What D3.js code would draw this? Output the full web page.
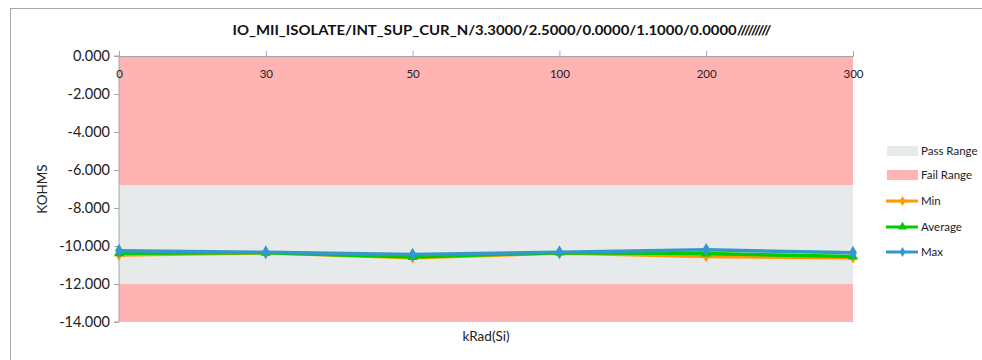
<!DOCTYPE html>
<html><head><meta charset="utf-8">
<script src="https://cdn.jsdelivr.net/npm/d3@7"></script>
<style>body{margin:0;background:#fff;}svg{display:block;font-family:Lato,"Open Sans",sans-serif;}</style>
</head><body>
<svg id="c" width="982" height="360"></svg>
<script>
const title = "IO_MII_ISOLATE/INT_SUP_CUR_N/3.3000/2.5000/0.0000/1.1000/0.0000/////////";
const categories = ["0","30","50","100","200","300"];
const minVals = [-10.48, -10.36, -10.62, -10.37, -10.55, -10.62];
const avgVals = [-10.38, -10.36, -10.58, -10.35, -10.40, -10.55];
const maxVals = [-10.25, -10.33, -10.45, -10.33, -10.20, -10.35];
const yTicks = [0, -2, -4, -6, -8, -10, -12, -14];
const passRange = [-12, -6.8];
const failRanges = [[-6.8, 0], [-14, -12]];
const yLabel = "KOHMS";
const xLabel = "kRad(Si)";

const svg = d3.select("#c");
const L = 119, R = 853, T = 56, B = 322;
const x = d3.scalePoint().domain(categories).range([L, R]);
const y = d3.scaleLinear().domain([-14, 0]).range([B, T]);

const passColor = "#e6eaea", failColor = "#ffb3b3";
const cMin = "#ff9900", cAvg = "#00cc00", cMax = "#3399cc";

// outer border
svg.append("rect").attr("x", 10.5).attr("y", 8.5).attr("width", 990).attr("height", 400)
  .attr("fill", "none").attr("stroke", "#a6a6a6").attr("stroke-width", 1);

// title
svg.append("text").attr("x", 502).attr("y", 35).attr("text-anchor", "middle")
  .attr("font-weight", "bold").attr("font-size", 14).attr("fill", "#111")
  .attr("textLength", 539).attr("lengthAdjust", "spacingAndGlyphs").text(title);

// ranges
failRanges.forEach(r => {
  svg.append("rect").attr("x", L).attr("width", R - L)
    .attr("y", y(r[1])).attr("height", y(r[0]) - y(r[1])).attr("fill", failColor);
});
svg.append("rect").attr("x", L).attr("width", R - L)
  .attr("y", y(passRange[1])).attr("height", y(passRange[0]) - y(passRange[1])).attr("fill", passColor);

// y axis
const yAxis = d3.axisLeft(y).tickValues(yTicks).tickSize(5).tickPadding(4)
  .tickFormat(d => d3.format(".3f")(d).replace("−", "-"));
const gy = svg.append("g").attr("transform", `translate(${L},0)`).call(yAxis);
gy.selectAll("path,line").attr("stroke", "#a6a6a6");
gy.select(".domain").attr("d", `M-5,${T}H0V${B}H-5`);
gy.selectAll("text").attr("font-size", 14.5).attr("fill", "#222").attr("font-family", "Lato,'Open Sans',sans-serif");

// x axis at value 0 (top), labels below line
const xAxis = d3.axisTop(x).tickSize(5).tickFormat(d => d);
const gx = svg.append("g").attr("transform", `translate(0,${y(0)})`).call(xAxis);
gx.selectAll("path,line").attr("stroke", "#a6a6a6");
gx.selectAll("text").attr("font-size", 11.5).attr("fill", "#222")
  .attr("y", 22).attr("font-family", "Lato,'Open Sans',sans-serif");

// axis labels
svg.append("text").attr("transform", `translate(47,${(T + B) / 2}) rotate(-90)`)
  .attr("text-anchor", "middle").attr("font-size", 13.5).attr("fill", "#222").text(yLabel);
svg.append("text").attr("x", 486).attr("y", 341).attr("text-anchor", "middle")
  .attr("font-size", 13.5).attr("fill", "#222").text(xLabel);

// series
const series = [
  {name: "Min", vals: minVals, color: cMin, sym: d3.symbolDiamond, size: 40},
  {name: "Average", vals: avgVals, color: cAvg, sym: d3.symbolTriangle, size: 45},
  {name: "Max", vals: maxVals, color: cMax, sym: d3.symbolDiamond, size: 55}
];
const line = d3.line().x((d, i) => x(categories[i])).y(d => y(d));
series.forEach(s => {
  svg.append("path").datum(s.vals).attr("d", line).attr("fill", "none")
    .attr("stroke", s.color).attr("stroke-width", 3.5).attr("stroke-linejoin", "round");
  svg.append("g").selectAll("path").data(s.vals).join("path")
    .attr("transform", (d, i) => `translate(${x(categories[i])},${y(d)})`)
    .attr("d", d3.symbol().type(s.sym).size(s.size)).attr("fill", s.color);
});

// legend
const lx = 887, lw = 31;
const legendItems = [
  {name: "Pass Range", type: "rect", color: passColor, yy: 151},
  {name: "Fail Range", type: "rect", color: failColor, yy: 175},
  {name: "Min", type: "line", color: cMin, sym: d3.symbolDiamond, size: 30, yy: 201},
  {name: "Average", type: "line", color: cAvg, sym: d3.symbolTriangle, size: 35, yy: 227},
  {name: "Max", type: "line", color: cMax, sym: d3.symbolDiamond, size: 30, yy: 252}
];
legendItems.forEach(it => {
  if (it.type === "rect") {
    svg.append("rect").attr("x", lx).attr("y", it.yy - 5).attr("width", lw).attr("height", 10).attr("fill", it.color);
  } else {
    svg.append("line").attr("x1", lx - 1).attr("x2", lx + lw).attr("y1", it.yy).attr("y2", it.yy)
      .attr("stroke", it.color).attr("stroke-width", 3);
    svg.append("path").attr("transform", `translate(${lx + lw / 2},${it.yy})`)
      .attr("d", d3.symbol().type(it.sym).size(it.size)).attr("fill", it.color);
  }
  svg.append("text").attr("x", lx + lw + 3).attr("y", it.yy + 4).attr("font-size", 11.5)
    .attr("fill", "#222").text(it.name);
});
</script>
</body></html>
